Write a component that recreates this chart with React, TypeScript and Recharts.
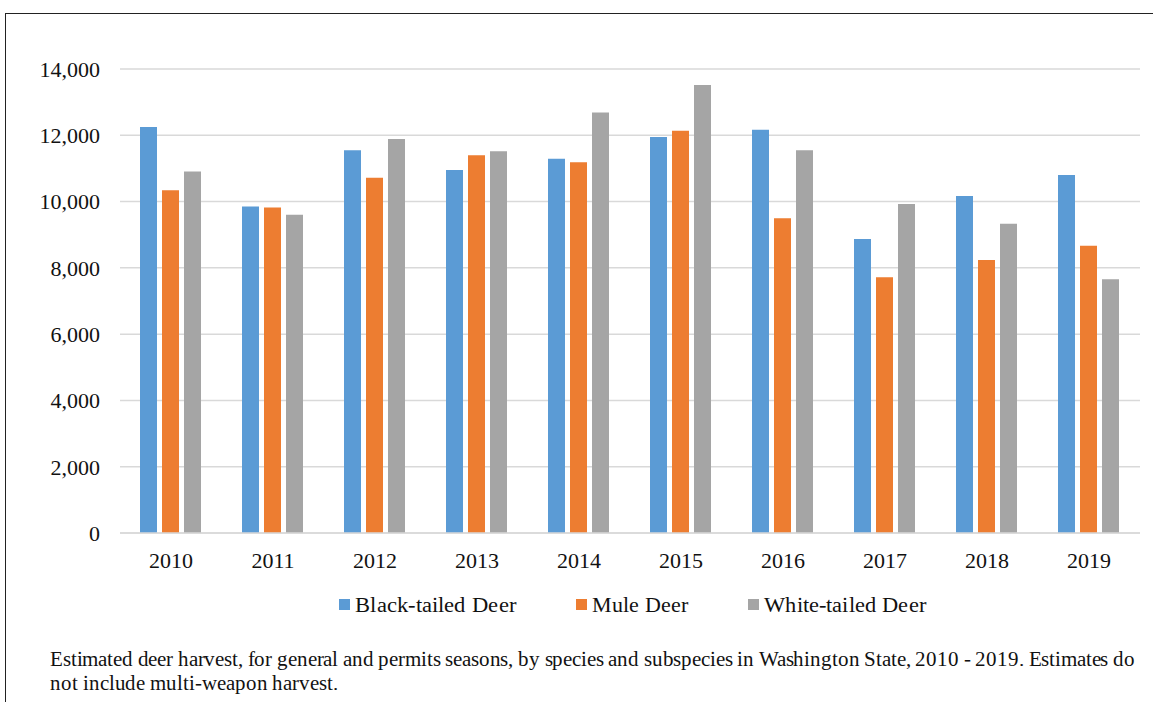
import React from 'react';
import { BarChart, Bar, XAxis, YAxis, CartesianGrid, Legend, Text } from 'recharts';

// --- Data ---
const YEARS = ['2010', '2011', '2012', '2013', '2014', '2015', '2016', '2017', '2018', '2019'];
const BLACK_TAILED = [12250, 9850, 11550, 10950, 11290, 11950, 12170, 8870, 10170, 10800];
const MULE = [10340, 9820, 10720, 11400, 11190, 12140, 9500, 7720, 8240, 8670];
const WHITE_TAILED = [10910, 9600, 11890, 11520, 12690, 13520, 11550, 9930, 9330, 7660];
const Y_TICKS = [0, 2000, 4000, 6000, 8000, 10000, 12000, 14000];

const SERIES = [
    { key: 'black', name: 'Black-tailed Deer', color: '#5B9BD5' },
    { key: 'mule', name: 'Mule Deer', color: '#ED7D31' },
    { key: 'white', name: 'White-tailed Deer', color: '#A5A5A5' },
];
// legend label widths in the reference (px)
const LEGEND_TEXT_W = [161, 96, 162];

// caption is split where the reference wraps it
const CAPTION_LINES = [
    'Estimated deer harvest, for general and permits seasons, by species and subspecies in Washington State, 2010 - 2019. Estimates do',
    'not include multi-weapon harvest.',
];

const data = YEARS.map((year, i) => ({
    year,
    black: BLACK_TAILED[i],
    mule: MULE[i],
    white: WHITE_TAILED[i],
}));

const FONT = "'Liberation Serif', 'Times New Roman', serif";
// local alias for the serif face, used by the legend and caption
const LABEL_FONT = "'CapSerif', 'Liberation Serif', 'Tinos', serif";
const FONT_FACE = `@font-face { font-family: 'CapSerif'; src: local('Liberation Serif'), local('LiberationSerif'), local('LiberationSerif-Regular'), local('Tinos'), local('Times New Roman'); }`;
const TEXT = '#111';

const LegendContent = () => {
    let x = 339;
    const items = SERIES.map((s, i) => {
        const g = (
            <g key={s.key}>
                <rect x={x} y={11} width={11} height={11} fill={s.color} />
                <Text
                    x={x + 16}
                    y={23.7}
                    fontFamily={LABEL_FONT}
                    fontSize={22}
                    fill={TEXT}
                    textLength={LEGEND_TEXT_W[i]}
                    lengthAdjust="spacingAndGlyphs"
                >
                    {s.name}
                </Text>
            </g>
        );
        x += 16 + LEGEND_TEXT_W[i] + 60;
        return g;
    });
    return (
        <svg width={1153} height={32} style={{ display: 'block' }}>
            {items}
        </svg>
    );
};

export default function App() {
    return (
        <div style={{ position: 'fixed', left: 0, top: 0, width: 1153, height: 702, background: '#fff', overflow: 'hidden' }}>
            <style>{FONT_FACE}</style>
            <div style={{ position: 'absolute', left: 5, top: 13, width: 1160, height: 700, borderTop: '1.5px solid #222', borderLeft: '1.5px solid #222' }} />
            <div style={{ position: 'absolute', left: 0, top: 0 }}>
                <BarChart
                    width={1153}
                    height={640}
                    data={data}
                    margin={{ top: 69, right: 13, bottom: 20, left: 0 }}
                    barCategoryGap={20}
                    barGap={5}
                >
                    <CartesianGrid vertical={false} stroke="#d9d9d9" strokeWidth={1.5} />
                    <XAxis
                        dataKey="year"
                        height={55}
                        axisLine={{ stroke: '#d9d9d9', strokeWidth: 1.5 }}
                        tickLine={false}
                        tickSize={0}
                        tickMargin={19}
                        tick={{ fill: TEXT, fontSize: 22, fontFamily: FONT }}
                    />
                    <YAxis
                        width={120}
                        domain={[0, 14000]}
                        ticks={Y_TICKS}
                        axisLine={false}
                        tickLine={false}
                        tickSize={0}
                        tickMargin={20}
                        tickFormatter={(v: number) => v.toLocaleString('en-US')}
                        tick={{ fill: TEXT, fontSize: 22, fontFamily: FONT }}
                    />
                    <Legend verticalAlign="bottom" align="left" wrapperStyle={{ left: 0, width: 1153 }} content={<LegendContent />} />
                    {SERIES.map((s) => (
                        <Bar key={s.key} dataKey={s.key} name={s.name} fill={s.color} isAnimationActive={false} />
                    ))}
                </BarChart>
            </div>
            <svg width={1153} height={702} style={{ position: 'absolute', left: 0, top: 0, pointerEvents: 'none' }}>
                <Text x={50} y={665.5} fontFamily={LABEL_FONT} fontSize={21} fill={TEXT} textLength={1085} lengthAdjust="spacing">
                    {CAPTION_LINES[0]}
                </Text>
                <Text x={50} y={689.5} fontFamily={LABEL_FONT} fontSize={21} fill={TEXT} textLength={288} lengthAdjust="spacingAndGlyphs">
                    {CAPTION_LINES[1]}
                </Text>
            </svg>
        </div>
    );
}
